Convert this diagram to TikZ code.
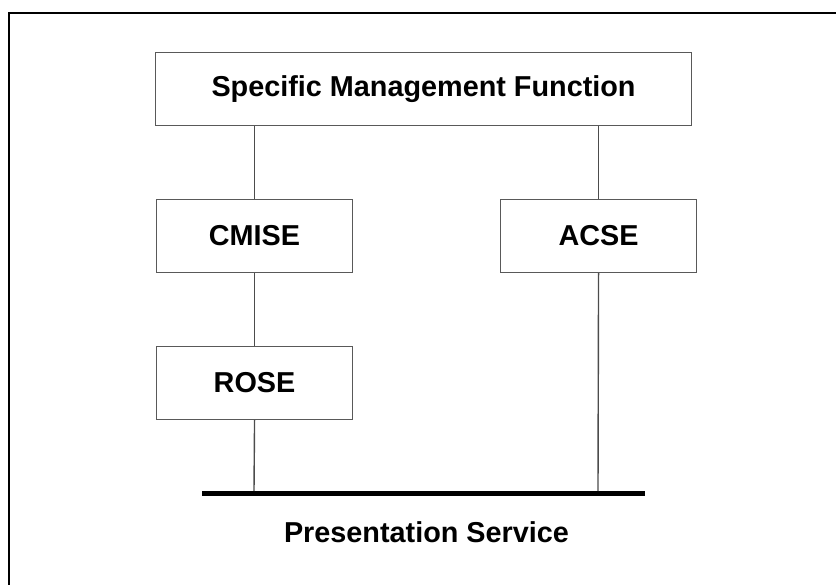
\documentclass[tikz,border=0pt]{standalone}
\usepackage{fontspec}
\setmainfont{Liberation Sans}
\begin{document}
\begin{tikzpicture}[x=1pt,y=-1pt,
  blk/.style={draw=black!65,line width=1.1pt,inner sep=0pt,anchor=north west,
    font=\fontsize{28.8}{34}\selectfont\bfseries},
  conn/.style={draw=black!70,line width=1.4pt},
  lbl/.style={font=\fontsize{28.8}{34}\selectfont\bfseries,inner sep=0pt}]
\useasboundingbox (0,0) rectangle (836,585);
% frame
\draw[line width=2pt] (9,585) -- (9,13) -- (836,13);
% boxes
\node[blk,minimum width=536pt,minimum height=73pt] (smf) at (155,52) {Specific Management Function};
\node[blk,minimum width=196pt,minimum height=73pt] (cmise) at (156,199) {CMISE};
\node[blk,minimum width=196pt,minimum height=73pt] (acse) at (500,199) {ACSE};
\node[blk,minimum width=196pt,minimum height=73pt] (rose) at (156,346) {ROSE};
% bar
\coordinate (barL) at (202,493.5);
\coordinate (barR) at (645,493.5);
\draw[line width=5pt] (barL) -- (barR);
\coordinate (bl) at (254,491);
\coordinate (br) at (598,491);
% connectors
\draw[conn] (smf.south -| cmise.north) -- (cmise.north);
\draw[conn] (cmise.south) -- (rose.north);
\draw[conn] (rose.south) -- (bl);
\draw[conn] (smf.south -| acse.north) -- (acse.north);
\draw[conn] (acse.south) -- (br);
% label
\node[lbl] (ps) at (426.5,532) {Presentation Service};
\end{tikzpicture}
\end{document}
